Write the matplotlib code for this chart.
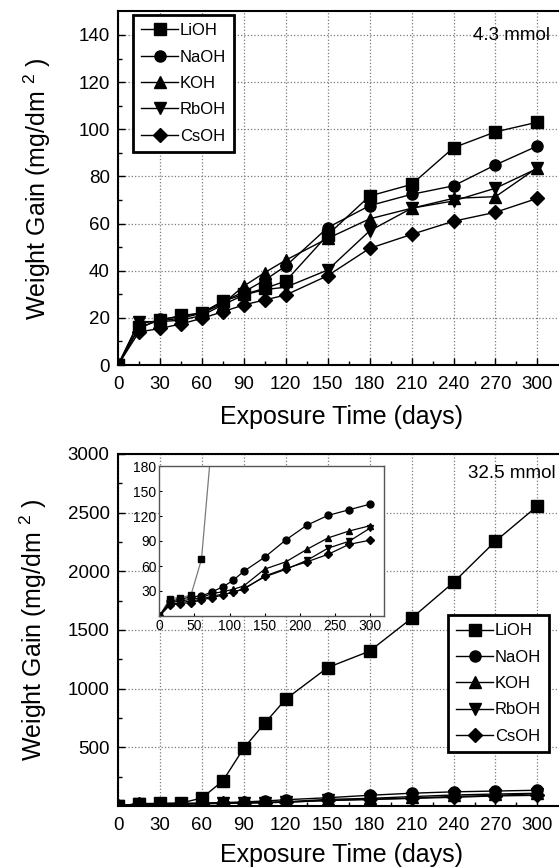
import matplotlib
matplotlib.use("Agg")
import matplotlib.pyplot as plt
from matplotlib.ticker import FixedLocator

plt.rcParams['font.family'] = ['Liberation Sans', 'DejaVu Sans']
plt.rcParams['mathtext.fontset'] = 'custom'
plt.rcParams['mathtext.rm'] = 'Liberation Sans'
plt.rcParams['mathtext.it'] = 'Liberation Sans'

# ---------------- data ----------------
days = [0, 15, 30, 45, 60, 75, 90, 105, 120, 150, 180, 210, 240, 270, 300]
series_names = ["LiOH", "NaOH", "KOH", "RbOH", "CsOH"]
markers = ["s", "o", "^", "v", "D"]

# 4.3 mmol (top panel)
low_LiOH = [0, 16, 19, 21, 22, 27, 30, 32.5, 35.6, 55.2, 71.7, 76.6, 92.2, 98.9, 103]
low_NaOH = [0, 15.5, 19.4, 20.5, 22.2, 27, 31, 36, 42, 58.3, 67.6, 72.4, 76, 84.9, 92.9]
low_KOH = [0, 17.7, 18.8, 19.8, 22, 26, 33.5, 39.2, 44.5, 53.7, 62, 66.5, 70.7, 71.4, 83.7]
low_RbOH = [0, 18.4, 18.4, 19, 21, 25.5, 29.7, 32, 33, 40.3, 56.9, 66.5, 69.6, 75, 83.4]
low_CsOH = [0, 14, 15.5, 17.4, 19.8, 22.6, 25.5, 27.6, 29.7, 37.9, 49.5, 55.4, 61, 64.8, 70.7]

# 32.5 mmol (bottom panel + inset)
high_LiOH = [0, 21, 22, 25, 68, 214, 494, 706, 911, 1180, 1320, 1600, 1906, 2257, 2557]
high_NaOH = [0, 18, 20, 23, 24, 29, 34.8, 42.7, 53.5, 70.6, 91.3, 109, 120.7, 127.5, 134.3]
high_KOH = [0, 16, 18, 20, 22, 27, 29, 32, 36, 56.3, 65, 80, 93.7, 102, 108.4]
high_RbOH = [0, 14, 16, 18, 20, 24, 26, 28, 33, 47, 56, 66.8, 81.4, 89.7, 105.6]
high_CsOH = [0, 13, 15, 16, 19.3, 22, 25, 29, 32, 48, 57, 65, 74, 86, 91]

low_data = [low_LiOH, low_NaOH, low_KOH, low_RbOH, low_CsOH]
high_data = [high_LiOH, high_NaOH, high_KOH, high_RbOH, high_CsOH]

W, H = 559, 867
fig = plt.figure(figsize=(W / 100, H / 100), dpi=100)

TICK_FS = 13.5
LAB_FS = 18
LEG_FS = 12


def msize(m, base):
    return base * 0.85 if m == "D" else base


def style_axes(ax):
    ax.set_axisbelow(True)
    ax.grid(True, which='major', linestyle=':', color='#7a7a7a', linewidth=0.9)
    for s in ax.spines.values():
        s.set_linewidth(1.5)
        s.set_color('black')
    ax.tick_params(which='both', direction='in', labelsize=TICK_FS)
    ax.tick_params(which='major', length=5, width=1.0)
    ax.tick_params(which='minor', length=3, width=1.0)
    ax.tick_params(axis='x', pad=8)
    ax.tick_params(axis='y', pad=6)
    ax.set_xlim(0, 320)
    ax.xaxis.set_major_locator(FixedLocator(list(range(0, 301, 30))))
    ax.xaxis.set_minor_locator(FixedLocator(list(range(15, 301, 30))))


def add_legend(ax, anchor):
    leg = ax.legend(loc='upper left', bbox_to_anchor=anchor, borderaxespad=0,
                    fontsize=LEG_FS, handlelength=2.2, handletextpad=0.1,
                    labelspacing=0.68, borderpad=0.5, fancybox=False,
                    framealpha=1, edgecolor='black', numpoints=1)
    leg.get_frame().set_linewidth(2.0)
    return leg


# ---------------- top panel ----------------
ax1 = fig.add_axes([118 / W, 1 - 365 / H, 447.4 / W, 353.6 / H])
style_axes(ax1)
ax1.set_ylim(0, 150)
ax1.yaxis.set_major_locator(FixedLocator(list(range(0, 141, 20))))
ax1.yaxis.set_minor_locator(FixedLocator(list(range(10, 141, 20))))
for name, m, vals in zip(series_names, markers, low_data):
    ax1.plot(days, vals, color='black', lw=1.0, marker=m, ms=msize(m, 8),
             mfc='black', mec='black', label=name)
add_legend(ax1, (0.0335, 0.99))
ax1.text(0.7935, 0.933, "4.3 mmol", transform=ax1.transAxes, fontsize=TICK_FS,
         ha='left', va='center')
ax1.set_xlabel("Exposure Time (days)", fontsize=LAB_FS)
ax1.set_ylabel("Weight Gain (mg/dm $^{2}$ )", fontsize=LAB_FS)
ax1.xaxis.set_label_coords(0.5, -0.112)
ax1.yaxis.set_label_coords(-0.145, 0.5)

# ---------------- bottom panel ----------------
ax2 = fig.add_axes([118 / W, 1 - 806 / H, 447.4 / W, 352 / H])
style_axes(ax2)
ax2.set_ylim(0, 3000)
ax2.yaxis.set_major_locator(FixedLocator(list(range(500, 3001, 500))))
ax2.yaxis.set_minor_locator(FixedLocator(list(range(250, 3001, 500))))
for name, m, vals in zip(series_names, markers, high_data):
    ax2.plot(days, vals, color='black', lw=1.0, marker=m, ms=msize(m, 8),
             mfc='black', mec='black', label=name)
add_legend(ax2, (0.7376, 0.5426))
ax2.text(0.782, 0.946, "32.5 mmol", transform=ax2.transAxes, fontsize=TICK_FS,
         ha='left', va='center')
ax2.set_xlabel("Exposure Time (days)", fontsize=LAB_FS)
ax2.set_ylabel("Weight Gain (mg/dm $^{2}$ )", fontsize=LAB_FS)
ax2.xaxis.set_label_coords(0.5, -0.105)
ax2.yaxis.set_label_coords(-0.155, 0.5)

# ---------------- inset ----------------
ins = fig.add_axes([159.3 / W, 1 - 616 / H, 225 / W, 150 / H])
ins.set_facecolor('white')
ins.set_xlim(0, 320)
ins.set_ylim(0, 180)
ins.xaxis.set_major_locator(FixedLocator(list(range(0, 301, 50))))
ins.yaxis.set_major_locator(FixedLocator(list(range(30, 181, 30))))
for s in ins.spines.values():
    s.set_linewidth(1.0)
    s.set_color('#555555')
ins.tick_params(which='both', direction='in', length=2, labelsize=10, pad=2)
for name, m, vals in zip(series_names, markers, high_data):
    lc = '#7a7a7a' if name == "LiOH" else 'black'
    ins.plot(days, vals, color=lc, lw=0.9, marker=m, ms=msize(m, 5),
             mfc='black', mec='black')

fig.savefig("out.png", dpi=100)
